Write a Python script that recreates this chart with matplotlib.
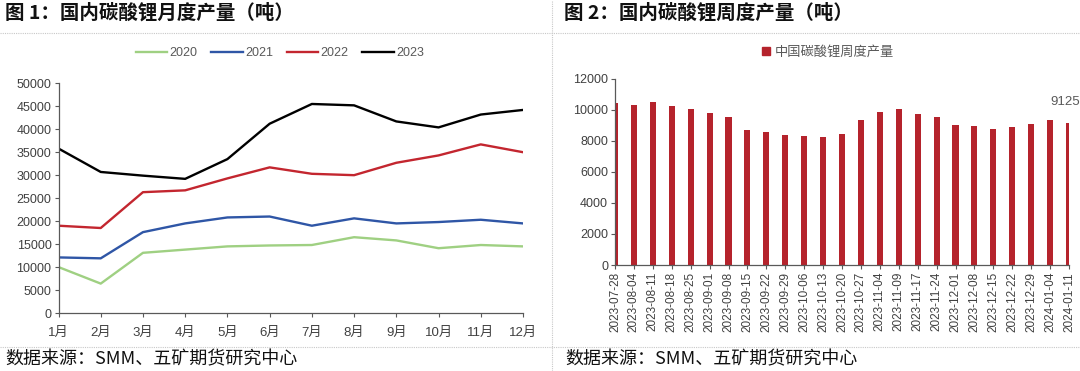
import matplotlib.pyplot as plt
from matplotlib.lines import Line2D
from matplotlib.patches import Patch

plt.rcParams['font.family'] = ['Liberation Sans', 'Noto Sans CJK SC', 'DejaVu Sans']

# monthly output (tonnes)
months = ['1月', '2月', '3月', '4月', '5月', '6月', '7月', '8月', '9月', '10月', '11月', '12月']
y2020 = [10000, 6400, 13100, 13800, 14500, 14700, 14800, 16500, 15800, 14100, 14800, 14500]
y2021 = [12100, 11900, 17600, 19500, 20800, 21000, 19000, 20600, 19500, 19800, 20300, 19500]
y2022 = [19000, 18500, 26300, 26700, 29300, 31700, 30300, 30000, 32700, 34300, 36700, 35000]
y2023 = [35800, 30700, 29900, 29200, 33500, 41200, 45500, 45200, 41700, 40400, 43200, 44200]

# weekly output (tonnes)
weeks = ['2023-07-28', '2023-08-04', '2023-08-11', '2023-08-18', '2023-08-25',
         '2023-09-01', '2023-09-08', '2023-09-15', '2023-09-22', '2023-09-29',
         '2023-10-06', '2023-10-13', '2023-10-20', '2023-10-27', '2023-11-04',
         '2023-11-09', '2023-11-17', '2023-11-24', '2023-12-01', '2023-12-08',
         '2023-12-15', '2023-12-22', '2023-12-29', '2024-01-04', '2024-01-11']
weekly = [10400, 10330, 10500, 10260, 10050, 9780, 9560, 8700, 8560, 8370,
          8280, 8220, 8430, 9350, 9850, 10040, 9720, 9560, 9000, 8930,
          8780, 8870, 9090, 9350, 9125]

tick_col = '#404040'
leg_col = '#595959'
cjk = ['Noto Sans CJK SC', 'DejaVu Sans']

fig = plt.figure(figsize=(10.8, 3.71), dpi=100)

# titles and footers
fig.text(5 / 1080, 1 - 13 / 371, '图 1：国内碳酸锂月度产量（吨）', family=cjk,
         fontsize=14, fontweight='bold', va='center', ha='left', color='#111111')
fig.text(564 / 1080, 1 - 13 / 371, '图 2：国内碳酸锂周度产量（吨）', family=cjk,
         fontsize=14, fontweight='bold', va='center', ha='left', color='#111111')
fig.text(5 / 1080, 1 - 359 / 371, '数据来源：SMM、五矿期货研究中心', family=cjk,
         fontsize=13, va='center', ha='left', color='#111111')
fig.text(565 / 1080, 1 - 359 / 371, '数据来源：SMM、五矿期货研究中心', family=cjk,
         fontsize=13, va='center', ha='left', color='#111111')

# dotted separators
sep = dict(color='#c8c8c8', lw=0.8, ls=(0, (1, 1)), transform=fig.transFigure)
fig.add_artist(Line2D([0, 1], [1 - 32.5 / 371] * 2, **sep))
fig.add_artist(Line2D([0, 1], [1 - 346.5 / 371] * 2, **sep))
fig.add_artist(Line2D([551.5 / 1080] * 2, [0, 1], **sep))

# left: monthly lines
ax1 = fig.add_axes([58.5 / 1080, 1 - 313 / 371, 464.5 / 1080, 229.7 / 371])
x = range(len(months))
ax1.plot(x, y2020, color='#9fd082', lw=1.7, label='2020')
ax1.plot(x, y2021, color='#2f56a6', lw=1.7, label='2021')
ax1.plot(x, y2022, color='#c3262f', lw=1.7, label='2022')
ax1.plot(x, y2023, color='#000000', lw=1.7, label='2023')
ax1.set_xlim(0, 11)
ax1.set_ylim(0, 50000)
ax1.set_yticks(range(0, 50001, 5000))
ax1.set_xticks(list(x))
ax1.set_xticklabels(months)
ax1.legend(loc='center', bbox_to_anchor=(280 / 1080, 1 - 53 / 371),
           bbox_transform=fig.transFigure, ncol=4, frameon=False, fontsize=9,
           handlelength=2.5, handletextpad=0.2, columnspacing=1.1,
           labelcolor=leg_col)

# right: weekly bars
ax2 = fig.add_axes([615 / 1080, 1 - 265 / 371, 454 / 1080, 186.4 / 371])
xb = range(len(weeks))
ax2.bar(xb, weekly, width=0.32, color='#b5232c', label='中国碳酸锂周度产量')
ax2.set_xlim(0, len(weeks) - 1)
ax2.set_ylim(0, 12000)
ax2.set_yticks(range(0, 12001, 2000))
ax2.set_xticks(list(xb))
ax2.set_xticklabels(weeks, rotation=90)
ax2.annotate(f'{weekly[-1]}', (len(weeks) - 1, weekly[-1]), xytext=(11, 15),
             textcoords='offset pixels', ha='right', va='bottom',
             fontsize=9.5, color=leg_col, annotation_clip=False)
ax2.legend(handles=[Patch(color='#b5232c', label='中国碳酸锂周度产量')],
           loc='center', bbox_to_anchor=(828 / 1080, 1 - 52 / 371),
           bbox_transform=fig.transFigure, frameon=False, fontsize=9.5,
           handlelength=0.6, handleheight=0.6, handletextpad=0.4,
           labelcolor=leg_col, prop={'family': cjk, 'size': 9.5})

for ax in (ax1, ax2):
    for s in ('top', 'right'):
        ax.spines[s].set_visible(False)
    for s in ('left', 'bottom'):
        ax.spines[s].set_color('#595959')
        ax.spines[s].set_linewidth(0.9)
    ax.tick_params(axis='both', colors='#595959', labelcolor=tick_col,
                   labelsize=9, length=3, width=0.8, pad=2)

ax1.tick_params(axis='x', labelsize=9.5, pad=7)
ax2.tick_params(axis='x', labelsize=8.5)

fig.savefig('out.png', dpi=100)
